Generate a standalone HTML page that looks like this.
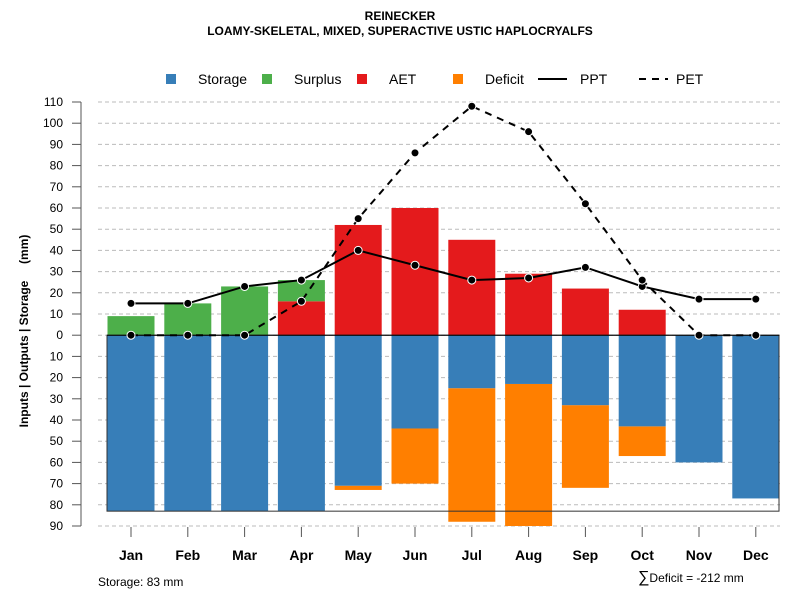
<!DOCTYPE html>
<html><head><meta charset="utf-8"><style>
body{margin:0;background:#fff;}
svg{display:block;font-family:"Liberation Sans",Arial,sans-serif;}
</style></head><body>
<svg id="c" width="800" height="600" xmlns="http://www.w3.org/2000/svg">
<text x="400" y="20" text-anchor="middle" font-size="12" font-weight="bold">REINECKER</text>
<text x="400" y="35" text-anchor="middle" font-size="12" font-weight="bold">LOAMY-SKELETAL, MIXED, SUPERACTIVE USTIC HAPLOCRYALFS</text>
<g>
<rect x="166" y="74" width="10" height="10" fill="#377eb8"/>
<text x="198" y="84" font-size="14">Storage</text>
<rect x="262" y="74" width="10" height="10" fill="#4daf4a"/>
<text x="294" y="84" font-size="14">Surplus</text>
<rect x="357" y="74" width="10" height="10" fill="#e41a1c"/>
<text x="389" y="84" font-size="14">AET</text>
<rect x="453" y="74" width="10" height="10" fill="#ff7f00"/>
<text x="485" y="84" font-size="14">Deficit</text>
<line x1="538" y1="79" x2="567" y2="79" stroke="#000" stroke-width="2"/>
<text x="580" y="84" font-size="14">PPT</text>
<line x1="639" y1="79" x2="668" y2="79" stroke="#000" stroke-width="2" stroke-dasharray="7,6"/>
<text x="676" y="84" font-size="14">PET</text>
</g>
<text transform="translate(28,331) rotate(-90)" text-anchor="middle" font-size="12" font-weight="bold" xml:space="preserve" style="white-space:pre">Inputs | Outputs | Storage     (mm)</text>
<text x="98" y="586" font-size="12">Storage: 83 mm</text>
<text x="638" y="582" font-size="12"><tspan font-size="16">∑</tspan>Deficit = -212 mm</text>
<g id="plot"></g>
</svg>
<script>
const months=["Jan","Feb","Mar","Apr","May","Jun","Jul","Aug","Sep","Oct","Nov","Dec"];
const storage=[83,83,83,83,71,44,25,23,33,43,60,77];
const deficit=[0,0,0,0,2,26,63,67,39,14,0,0];
const aet=[0,0,0,16,52,60,45,29,22,12,0,0];
const surplus=[9,15,23,10,0,0,0,0,0,0,0,0];
const ppt=[15,15,23,26,40,33,26,27,32,23,17,17];
const pet=[0,0,0,16,55,86,108,96,62,26,0,0];
const yTicks=[110,100,90,80,70,60,50,40,30,20,10,0,-10,-20,-30,-40,-50,-60,-70,-80,-90];
const maxStorage=83;

const NS="http://www.w3.org/2000/svg";
const g=document.getElementById('plot');
const y=v=>335.2-v*2.12;
const x=i=>131+i*56.8;
const bw=47;
function mk(t,a){const e=document.createElementNS(NS,t);for(const k in a)e.setAttribute(k,a[k]);g.appendChild(e);return e;}
yTicks.forEach(v=>{
  const gl=mk('line',{x1:98,x2:780,y1:y(v),y2:y(v),stroke:'#bbb','stroke-dasharray':'4,3'});
  
  
  const tk=mk('line',{x1:72,x2:81,y1:y(v),y2:y(v),stroke:'#555'});
  
  
  const t=mk('text',{x:63,y:y(v)+4,'text-anchor':'end','font-size':12});
  t.textContent=Math.abs(v);
  
  
});
const ax=mk('line',{x1:81,x2:81,y1:y(110),y2:y(-90),stroke:'#555'});


months.forEach((m,i)=>{
  const cx=x(i);
  if(deficit[i]>0){const r=mk('rect',{x:cx-bw/2,y:y(-storage[i]),width:bw,height:deficit[i]*2.12,fill:'#ff7f00'});
    
    }
  const s=mk('rect',{x:cx-bw/2,y:y(0),width:bw,height:storage[i]*2.12,fill:'#377eb8'});
  
  
  if(aet[i]>0){const r=mk('rect',{x:cx-bw/2,y:y(aet[i]),width:bw,height:aet[i]*2.12,fill:'#e41a1c'});
    
    }
  if(surplus[i]>0){const r=mk('rect',{x:cx-bw/2,y:y(aet[i]+surplus[i]),width:bw,height:surplus[i]*2.12,fill:'#4daf4a'});
    
    }
  const tk=mk('line',{x1:cx,x2:cx,y1:527,y2:537,stroke:'#555'});
  
  
  const t=mk('text',{x:cx,y:560,'text-anchor':'middle','font-size':14,'font-weight':'bold'});
  t.textContent=m;
  
  
});
const box=mk('rect',{x:107,y:y(0),width:672,height:maxStorage*2.12,fill:'none',stroke:'#333','stroke-width':1});


const zl=mk('line',{x1:107,x2:779,y1:y(0),y2:y(0),stroke:'#000'});


function series(vals,name,dash){
  const p=mk('polyline',{points:vals.map((v,i)=>x(i)+','+y(v)).join(' '),fill:'none',stroke:'#000','stroke-width':2,'stroke-dasharray':dash||'none'});
  
  
  vals.forEach((v,i)=>{const c=mk('circle',{cx:x(i),cy:y(v),r:4,fill:'#000',stroke:'#fff','stroke-width':1});
    
    });
}
series(ppt,'ppt');
series(pet,'pet','7,6');
</script>
</body></html>
